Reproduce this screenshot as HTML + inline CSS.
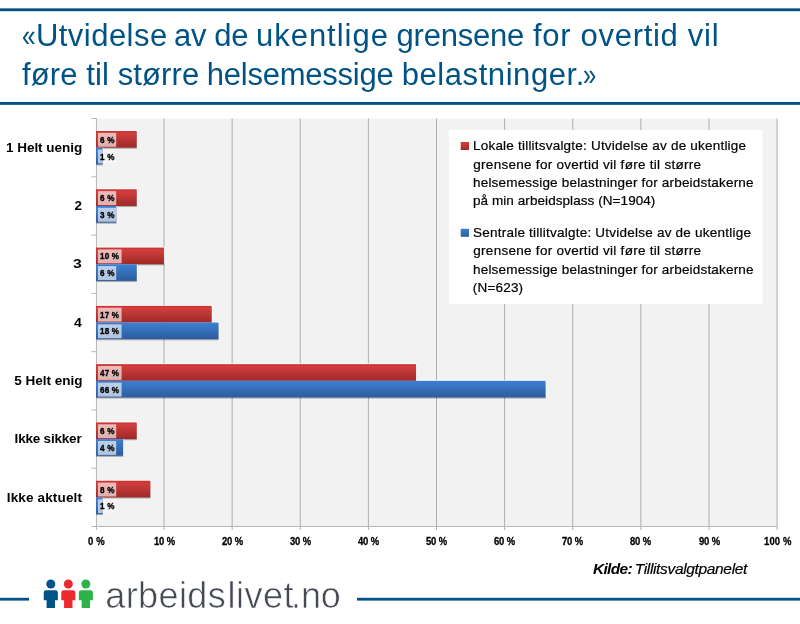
<!DOCTYPE html>
<html lang="no">
<head>
<meta charset="utf-8">
<title>Utvidelse av de ukentlige grensene for overtid</title>
<style>
html,body{margin:0;padding:0;background:#fff;}
body{width:800px;height:624px;position:relative;overflow:hidden;font-family:"Liberation Sans",sans-serif;color:#000;}
h1,p{margin:0;padding:0;font-size:inherit;font-weight:inherit;}
.t{position:absolute;white-space:nowrap;margin:0;padding:0;display:block;}
.rule{position:absolute;left:0;width:800px;height:4px;}
.r1{background:linear-gradient(rgba(0,83,132,.65) 0 1px,#005384 1px 3px,rgba(0,83,132,.2) 3px 4px);}
.r2{background:linear-gradient(rgba(0,83,132,.04) 0 1px,#005384 1px 3px,rgba(0,83,132,.85) 3px 4px);}
.r3{background:linear-gradient(rgba(0,83,132,.2) 0 1px,#005384 1px 3px,rgba(0,83,132,.6) 3px 4px);}
.ti{color:#005384;font:31px 'Liberation Sans',sans-serif;line-height:38px;height:38px}
.cat{font:bold 13.5px 'Liberation Sans',sans-serif;line-height:18px;height:18px}
.dl{font:bold 9px 'Liberation Sans',sans-serif;line-height:12px;height:12px;-webkit-text-stroke:0.35px #000;transform:scaleX(0.9);transform-origin:0 0}
.xl{font:bold 10.5px 'Liberation Sans',sans-serif;line-height:14px;height:14px;-webkit-text-stroke:0.3px #000;transform:scaleX(0.9);transform-origin:0 0}
.lg{font:13.5px 'Liberation Sans',sans-serif;line-height:18px;height:18px;-webkit-text-stroke:0.2px #000}
.ki{font:italic 15.5px 'Liberation Sans',sans-serif;line-height:20px;height:20px;-webkit-text-stroke:0.2px #000}
.logo{color:#454a52;font:36px 'Liberation Sans',sans-serif;line-height:44px;height:44px;-webkit-text-stroke:0.6px #fff}
.chart{position:absolute;left:0;top:0;}
.icons{position:absolute;left:0;top:570px;}
</style>
</head>
<body>
<header>
<div class="rule r1" style="top:8px"></div>
<h1>
<span class="t ti" style="left:0;top:17.10px"><span style="display:inline-block;transform:scaleX(0.787);transform-origin:0 0;margin-left:21.52px">«</span><span style="letter-spacing:0.47px;margin-left:-2.86px">Utvidelse </span><span style="letter-spacing:-0.36px;margin-left:-2.71px">av de </span><span style="letter-spacing:0.97px;margin-left:-0.30px">ukentlige </span><span style="letter-spacing:-0.21px;margin-left:-1.91px">grensene </span><span style="letter-spacing:0.70px;margin-left:0.50px">for overtid vil </span></span>
<span class="t ti" style="left:0;top:55.50px"><span style="letter-spacing:0.11px;margin-left:22.00px">føre til større </span><span style="letter-spacing:-0.24px;margin-left:-1.30px">helsemessige </span><span style="letter-spacing:0.56px;margin-left:-0.05px">belastninger.</span><span style="display:inline-block;transform:scaleX(0.767);transform-origin:0 0;margin-left:-1.60px">»</span></span>
</h1>
<div class="rule r2" style="top:101px"></div>
</header>
<main>
<svg class="chart" width="800" height="624" viewBox="0 0 800 624">
<defs><linearGradient id="gr" x1="0" y1="0" x2="0" y2="1"><stop offset="0" stop-color="#cb302e"/><stop offset="0.14" stop-color="#d03e3d"/><stop offset="1" stop-color="#9f2928"/></linearGradient><linearGradient id="gb" x1="0" y1="0" x2="0" y2="1"><stop offset="0" stop-color="#3a7ed6"/><stop offset="0.14" stop-color="#3b7bca"/><stop offset="1" stop-color="#2b5c9e"/></linearGradient></defs>
<rect x="96.5" y="118.6" width="680.5" height="408" fill="#f2f2f2"/>
<g stroke="#adadad" stroke-width="1" fill="none">
<line x1="164.02" y1="118.5" x2="164.02" y2="530"/>
<line x1="232.14" y1="118.5" x2="232.14" y2="530"/>
<line x1="300.26" y1="118.5" x2="300.26" y2="530"/>
<line x1="368.38" y1="118.5" x2="368.38" y2="530"/>
<line x1="436.50" y1="118.5" x2="436.50" y2="530"/>
<line x1="504.62" y1="118.5" x2="504.62" y2="530"/>
<line x1="572.74" y1="118.5" x2="572.74" y2="530"/>
<line x1="640.86" y1="118.5" x2="640.86" y2="530"/>
<line x1="708.98" y1="118.5" x2="708.98" y2="530"/>
<line x1="777.10" y1="118.5" x2="777.10" y2="530"/>
</g>
<g stroke="#b6b6b6" stroke-width="1" fill="none">
<line x1="96.45" y1="118" x2="96.45" y2="530"/>
<line x1="91.3" y1="526.5" x2="777.5" y2="526.5"/>
<line x1="91.3" y1="118.50" x2="96.5" y2="118.50"/>
<line x1="91.3" y1="176.79" x2="96.5" y2="176.79"/>
<line x1="91.3" y1="235.08" x2="96.5" y2="235.08"/>
<line x1="91.3" y1="293.37" x2="96.5" y2="293.37"/>
<line x1="91.3" y1="351.66" x2="96.5" y2="351.66"/>
<line x1="91.3" y1="409.95" x2="96.5" y2="409.95"/>
<line x1="91.3" y1="468.24" x2="96.5" y2="468.24"/>
</g>
<rect x="448.8" y="130" width="313.7" height="173.9" fill="#fff"/>
<rect x="460.7" y="142" width="8.3" height="8" fill="url(#gr)"/>
<rect x="460.7" y="228.8" width="8.3" height="8" fill="url(#gb)"/>
<rect x="97" y="130.00" width="40.68" height="16.65" fill="#fff" fill-opacity=".7"/>
<rect x="96.3" y="132.10" width="40.58" height="16.65" fill="#000" fill-opacity=".3"/>
<rect x="97" y="146.65" width="6.61" height="16.65" fill="#fff" fill-opacity=".7"/>
<rect x="96.3" y="148.75" width="6.51" height="16.65" fill="#000" fill-opacity=".3"/>
<rect x="96" y="131.00" width="40.68" height="16.65" fill="url(#gr)"/>
<rect x="96" y="147.65" width="6.61" height="16.65" fill="url(#gb)"/>
<rect x="97.9" y="132.85" width="18.30" height="13.9" fill="#fff" fill-opacity=".64"/>
<rect x="97.9" y="149.50" width="4.71" height="13.9" fill="#fff" fill-opacity=".64"/>
<rect x="102.61" y="149.50" width="13.59" height="13.9" fill="#fff" fill-opacity=".35"/>
<rect x="97" y="188.29" width="40.68" height="16.65" fill="#fff" fill-opacity=".7"/>
<rect x="96.3" y="190.39" width="40.58" height="16.65" fill="#000" fill-opacity=".3"/>
<rect x="97" y="204.94" width="20.24" height="16.65" fill="#fff" fill-opacity=".7"/>
<rect x="96.3" y="207.04" width="20.14" height="16.65" fill="#000" fill-opacity=".3"/>
<rect x="96" y="189.29" width="40.68" height="16.65" fill="url(#gr)"/>
<rect x="96" y="205.94" width="20.24" height="16.65" fill="url(#gb)"/>
<rect x="97.9" y="191.14" width="18.30" height="13.9" fill="#fff" fill-opacity=".64"/>
<rect x="97.9" y="207.79" width="18.30" height="13.9" fill="#fff" fill-opacity=".64"/>
<rect x="97" y="246.58" width="67.93" height="16.65" fill="#fff" fill-opacity=".7"/>
<rect x="96.3" y="248.68" width="67.83" height="16.65" fill="#000" fill-opacity=".3"/>
<rect x="97" y="263.23" width="40.68" height="16.65" fill="#fff" fill-opacity=".7"/>
<rect x="96.3" y="265.33" width="40.58" height="16.65" fill="#000" fill-opacity=".3"/>
<rect x="96" y="247.58" width="67.93" height="16.65" fill="url(#gr)"/>
<rect x="96" y="264.23" width="40.68" height="16.65" fill="url(#gb)"/>
<rect x="97.9" y="249.43" width="23.70" height="13.9" fill="#fff" fill-opacity=".64"/>
<rect x="97.9" y="266.08" width="18.30" height="13.9" fill="#fff" fill-opacity=".64"/>
<rect x="97" y="304.87" width="115.62" height="16.65" fill="#fff" fill-opacity=".7"/>
<rect x="96.3" y="306.97" width="115.52" height="16.65" fill="#000" fill-opacity=".3"/>
<rect x="97" y="321.52" width="122.43" height="16.65" fill="#fff" fill-opacity=".7"/>
<rect x="96.3" y="323.62" width="122.33" height="16.65" fill="#000" fill-opacity=".3"/>
<rect x="96" y="305.87" width="115.62" height="16.65" fill="url(#gr)"/>
<rect x="96" y="322.52" width="122.43" height="16.65" fill="url(#gb)"/>
<rect x="97.9" y="307.72" width="23.70" height="13.9" fill="#fff" fill-opacity=".64"/>
<rect x="97.9" y="324.37" width="23.70" height="13.9" fill="#fff" fill-opacity=".64"/>
<rect x="97" y="363.16" width="320.01" height="16.65" fill="#fff" fill-opacity=".7"/>
<rect x="96.3" y="365.26" width="319.91" height="16.65" fill="#000" fill-opacity=".3"/>
<rect x="97" y="379.81" width="449.46" height="16.65" fill="#fff" fill-opacity=".7"/>
<rect x="96.3" y="381.91" width="449.36" height="16.65" fill="#000" fill-opacity=".3"/>
<rect x="96" y="364.16" width="320.01" height="16.65" fill="url(#gr)"/>
<rect x="96" y="380.81" width="449.46" height="16.65" fill="url(#gb)"/>
<rect x="97.9" y="366.01" width="23.70" height="13.9" fill="#fff" fill-opacity=".64"/>
<rect x="97.9" y="382.66" width="23.70" height="13.9" fill="#fff" fill-opacity=".64"/>
<rect x="97" y="421.45" width="40.68" height="16.65" fill="#fff" fill-opacity=".7"/>
<rect x="96.3" y="423.55" width="40.58" height="16.65" fill="#000" fill-opacity=".3"/>
<rect x="97" y="438.10" width="27.05" height="16.65" fill="#fff" fill-opacity=".7"/>
<rect x="96.3" y="440.20" width="26.95" height="16.65" fill="#000" fill-opacity=".3"/>
<rect x="96" y="422.45" width="40.68" height="16.65" fill="url(#gr)"/>
<rect x="96" y="439.10" width="27.05" height="16.65" fill="url(#gb)"/>
<rect x="97.9" y="424.30" width="18.30" height="13.9" fill="#fff" fill-opacity=".64"/>
<rect x="97.9" y="440.95" width="18.30" height="13.9" fill="#fff" fill-opacity=".64"/>
<rect x="97" y="479.74" width="54.30" height="16.65" fill="#fff" fill-opacity=".7"/>
<rect x="96.3" y="481.84" width="54.20" height="16.65" fill="#000" fill-opacity=".3"/>
<rect x="97" y="496.39" width="6.61" height="16.65" fill="#fff" fill-opacity=".7"/>
<rect x="96.3" y="498.49" width="6.51" height="16.65" fill="#000" fill-opacity=".3"/>
<rect x="96" y="480.74" width="54.30" height="16.65" fill="url(#gr)"/>
<rect x="96" y="497.39" width="6.61" height="16.65" fill="url(#gb)"/>
<rect x="97.9" y="482.59" width="18.30" height="13.9" fill="#fff" fill-opacity=".64"/>
<rect x="97.9" y="499.24" width="4.71" height="13.9" fill="#fff" fill-opacity=".64"/>
<rect x="102.61" y="499.24" width="13.59" height="13.9" fill="#fff" fill-opacity=".35"/>
</svg>
<div class="rows">
<div class="row">
<span class="t cat" style="left:6.00px;top:138.90px;letter-spacing:-0.03px">1 Helt uenig </span>
<span class="t dl" style="left:100.20px;top:133.90px;letter-spacing:0.30px">6 % </span>
<span class="t dl" style="left:100.20px;top:150.55px;letter-spacing:0.30px">1 % </span>
</div>
<div class="row">
<span class="t cat" style="left:74.60px;top:197.19px;transform:scaleX(1.000);transform-origin:0 0">2 </span>
<span class="t dl" style="left:100.20px;top:192.19px;letter-spacing:0.30px">6 % </span>
<span class="t dl" style="left:100.20px;top:208.84px;letter-spacing:0.30px">3 % </span>
</div>
<div class="row">
<span class="t cat" style="left:73.43px;top:255.48px;transform:scaleX(1.167);transform-origin:0 0">3 </span>
<span class="t dl" style="left:99.80px;top:250.48px;letter-spacing:0.20px">10 % </span>
<span class="t dl" style="left:100.20px;top:267.13px;letter-spacing:0.30px">6 % </span>
</div>
<div class="row">
<span class="t cat" style="left:74.30px;top:313.77px;transform:scaleX(1.043);transform-origin:0 0">4 </span>
<span class="t dl" style="left:99.80px;top:308.77px;letter-spacing:0.20px">17 % </span>
<span class="t dl" style="left:99.80px;top:325.42px;letter-spacing:0.20px">18 % </span>
</div>
<div class="row">
<span class="t cat" style="left:14.30px;top:372.06px;letter-spacing:-0.01px">5 Helt enig </span>
<span class="t dl" style="left:99.80px;top:367.06px;letter-spacing:0.20px">47 % </span>
<span class="t dl" style="left:99.80px;top:383.71px;letter-spacing:0.20px">66 % </span>
</div>
<div class="row">
<span class="t cat" style="left:14.60px;top:430.35px;letter-spacing:-0.20px">Ikke sikker </span>
<span class="t dl" style="left:100.20px;top:425.35px;letter-spacing:0.30px">6 % </span>
<span class="t dl" style="left:100.20px;top:442.00px;letter-spacing:0.30px">4 % </span>
</div>
<div class="row">
<span class="t cat" style="left:6.75px;top:488.64px;letter-spacing:0.15px">Ikke aktuelt </span>
<span class="t dl" style="left:100.20px;top:483.64px;letter-spacing:0.30px">8 % </span>
<span class="t dl" style="left:100.20px;top:500.29px;letter-spacing:0.30px">1 % </span>
</div>
</div>
<div class="xaxis">
<span class="t xl" style="left:88.35px;top:534.30px;letter-spacing:0.25px">0 % </span>
<span class="t xl" style="left:153.57px;top:534.30px;letter-spacing:-0.17px">10 % </span>
<span class="t xl" style="left:221.69px;top:534.30px;letter-spacing:-0.17px">20 % </span>
<span class="t xl" style="left:289.81px;top:534.30px;letter-spacing:-0.17px">30 % </span>
<span class="t xl" style="left:357.93px;top:534.30px;letter-spacing:-0.17px">40 % </span>
<span class="t xl" style="left:426.05px;top:534.30px;letter-spacing:-0.17px">50 % </span>
<span class="t xl" style="left:494.17px;top:534.30px;letter-spacing:-0.17px">60 % </span>
<span class="t xl" style="left:562.29px;top:534.30px;letter-spacing:-0.17px">70 % </span>
<span class="t xl" style="left:630.41px;top:534.30px;letter-spacing:-0.17px">80 % </span>
<span class="t xl" style="left:698.53px;top:534.30px;letter-spacing:-0.17px">90 % </span>
<span class="t xl" style="left:763.60px;top:534.30px;letter-spacing:0.20px">100 % </span>
</div>
<div class="legend">
<div class="item">
<span class="t lg" style="left:473.00px;top:137.40px;letter-spacing:0.21px">Lokale tillitsvalgte: Utvidelse av de ukentlige </span>
<span class="t lg" style="left:473.30px;top:155.80px;letter-spacing:0.28px">grensene for overtid vil føre til større </span>
<span class="t lg" style="left:473.00px;top:174.00px;letter-spacing:0.19px">helsemessige belastninger for arbeidstakerne </span>
<span class="t lg" style="left:473.00px;top:192.30px;letter-spacing:0.07px">på min arbeidsplass (N=1904)</span>
</div>
<div class="item">
<span class="t lg" style="left:473.00px;top:224.00px;letter-spacing:0.23px">Sentrale tillitvalgte: Utvidelse av de ukentlige </span>
<span class="t lg" style="left:473.30px;top:242.00px;letter-spacing:0.28px">grensene for overtid vil føre til større </span>
<span class="t lg" style="left:473.00px;top:260.60px;letter-spacing:0.19px">helsemessige belastninger for arbeidstakerne </span>
<span class="t lg" style="left:472.75px;top:279.20px;letter-spacing:0.20px">(N=623)</span>
</div>
</div>
<p class="t ki source" style="left:0;top:559.10px"><span style="font-weight:bold;-webkit-text-stroke:0;letter-spacing:-0.66px;margin-left:592.90px">Kilde: </span><span style="letter-spacing:-0.34px;margin-left:-0.96px">Tillitsvalgtpanelet</span></p>
</main>
<footer>
<div class="rule r3" style="top:597px;width:29px"></div>
<div class="rule r3" style="top:597px;left:357px;width:443px"></div>
<svg class="icons" width="110" height="54" viewBox="0 570 110 54"><g fill="#005386"><circle cx="50.80" cy="584" r="4.5"/><path d="M46.15 590.25 H55.45 A2.40 2.40 0 0 1 57.85 592.65 V600.25 H55.00 V608.10 H46.60 V600.25 H43.75 V592.65 A2.40 2.40 0 0 1 46.15 590.25 Z"/></g><g fill="#ee2a2e"><circle cx="68.30" cy="584" r="4.5"/><path d="M63.65 590.25 H72.95 A2.40 2.40 0 0 1 75.35 592.65 V600.25 H72.50 V608.10 H64.10 V600.25 H61.25 V592.65 A2.40 2.40 0 0 1 63.65 590.25 Z"/></g><g fill="#2db34a"><circle cx="85.85" cy="584" r="4.5"/><path d="M81.20 590.25 H90.50 A2.40 2.40 0 0 1 92.90 592.65 V600.25 H90.05 V608.10 H81.65 V600.25 H78.80 V592.65 A2.40 2.40 0 0 1 81.20 590.25 Z"/></g></svg>
<div class="t logo brand" style="left:0;top:573.70px"><span style="letter-spacing:0.39px;margin-left:105.30px">arbeids</span><span style="letter-spacing:0.50px;margin-left:1.49px">livet</span><span style="letter-spacing:-0.10px;margin-left:-3.15px">.no</span></div>
</footer>
</body>
</html>
